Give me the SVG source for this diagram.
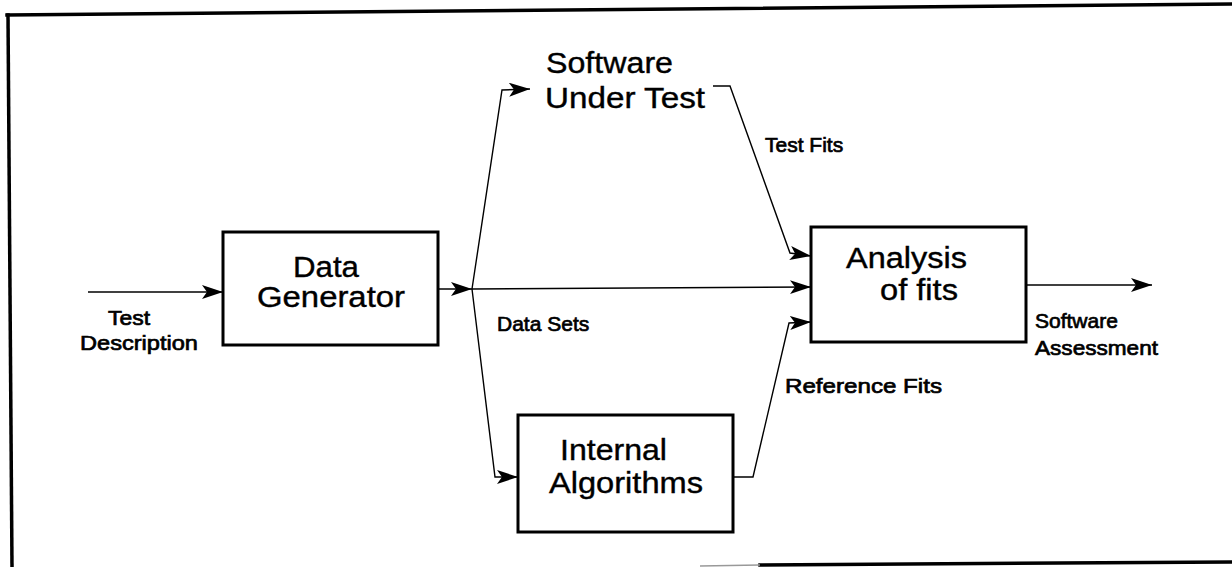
<svg xmlns="http://www.w3.org/2000/svg" width="1232" height="567" viewBox="0 0 1232 567">
<style>
.frame{fill:none;stroke:#000;stroke-width:3.5;stroke-linecap:square}
.box{fill:#fff;stroke:#000;stroke-width:3}
.conn{fill:none;stroke:#000;stroke-width:1.4}
.big{font-family:"Liberation Sans",Arial,sans-serif;font-size:30px;fill:#000;stroke:#000;stroke-width:0.4}
.small{font-family:"Liberation Sans",Arial,sans-serif;font-size:21px;fill:#000;stroke:#000;stroke-width:0.7}
</style>
<defs>
<marker id="arr" markerUnits="userSpaceOnUse" markerWidth="24" markerHeight="16" refX="21" refY="7" orient="auto">
<path d="M0,0 L21,7 L0,14 L5,7 Z" fill="#000"/>
</marker>
</defs>
<rect width="1232" height="567" fill="#fff"/>
<g id="frame">
<path class="frame" d="M7,15 L1232,4"/>
<path class="frame" d="M8,15 L12,567"/>
<path class="frame" d="M760,565 L1232,562"/>
<path d="M700,566 L760,565" stroke="#999" stroke-width="1.5" fill="none"/>
</g>
<g id="connectors">
<path class="conn" d="M88,292 L223,292" marker-end="url(#arr)"/>
<path class="conn" d="M438,289 L472,289" marker-end="url(#arr)"/>
<path class="conn" d="M472,289 L502,90 L530,89" marker-end="url(#arr)"/>
<path class="conn" d="M472,289 L495,477 L518,477" marker-end="url(#arr)"/>
<path class="conn" d="M472,289 L811,287" marker-end="url(#arr)"/>
<path class="conn" d="M713,86 L730,86 L790,253 L811,256" marker-end="url(#arr)"/>
<path class="conn" d="M733,477 L753,477 L789,323 L811,322" marker-end="url(#arr)"/>
<path class="conn" d="M1026,285 L1152,285" marker-end="url(#arr)"/>
</g>
<g id="label-test-description">
<text class="small" x="108" y="325" textLength="42" lengthAdjust="spacingAndGlyphs">Test</text>
<text class="small" x="80" y="350" textLength="118" lengthAdjust="spacingAndGlyphs">Description</text>
</g>
<g id="data-generator">
<rect class="box" x="223" y="232" width="215" height="113"/>
<text class="big" x="293" y="277" textLength="66" lengthAdjust="spacingAndGlyphs">Data</text>
<text class="big" x="257" y="307" textLength="148" lengthAdjust="spacingAndGlyphs">Generator</text>
</g>
<g id="software-under-test">
<text class="big" x="546" y="73" textLength="127" lengthAdjust="spacingAndGlyphs">Software</text>
<text class="big" x="545" y="108" textLength="160" lengthAdjust="spacingAndGlyphs">Under Test</text>
</g>
<g id="internal-algorithms">
<rect class="box" x="518" y="415" width="215" height="117"/>
<text class="big" x="560" y="460" textLength="107" lengthAdjust="spacingAndGlyphs">Internal</text>
<text class="big" x="549" y="493" textLength="154" lengthAdjust="spacingAndGlyphs">Algorithms</text>
</g>
<g id="analysis-of-fits">
<rect class="box" x="811" y="227" width="215" height="115"/>
<text class="big" x="846" y="268" textLength="121" lengthAdjust="spacingAndGlyphs">Analysis</text>
<text class="big" x="880" y="300" textLength="78" lengthAdjust="spacingAndGlyphs">of fits</text>
</g>
<g id="edge-labels">
<text class="small" x="765" y="152">Test Fits</text>
<text class="small" x="497" y="331">Data Sets</text>
<text class="small" x="785" y="393" textLength="157" lengthAdjust="spacingAndGlyphs">Reference Fits</text>
<text class="small" x="1035" y="328">Software</text>
<text class="small" x="1035" y="355" textLength="123" lengthAdjust="spacingAndGlyphs">Assessment</text>
</g>
</svg>
